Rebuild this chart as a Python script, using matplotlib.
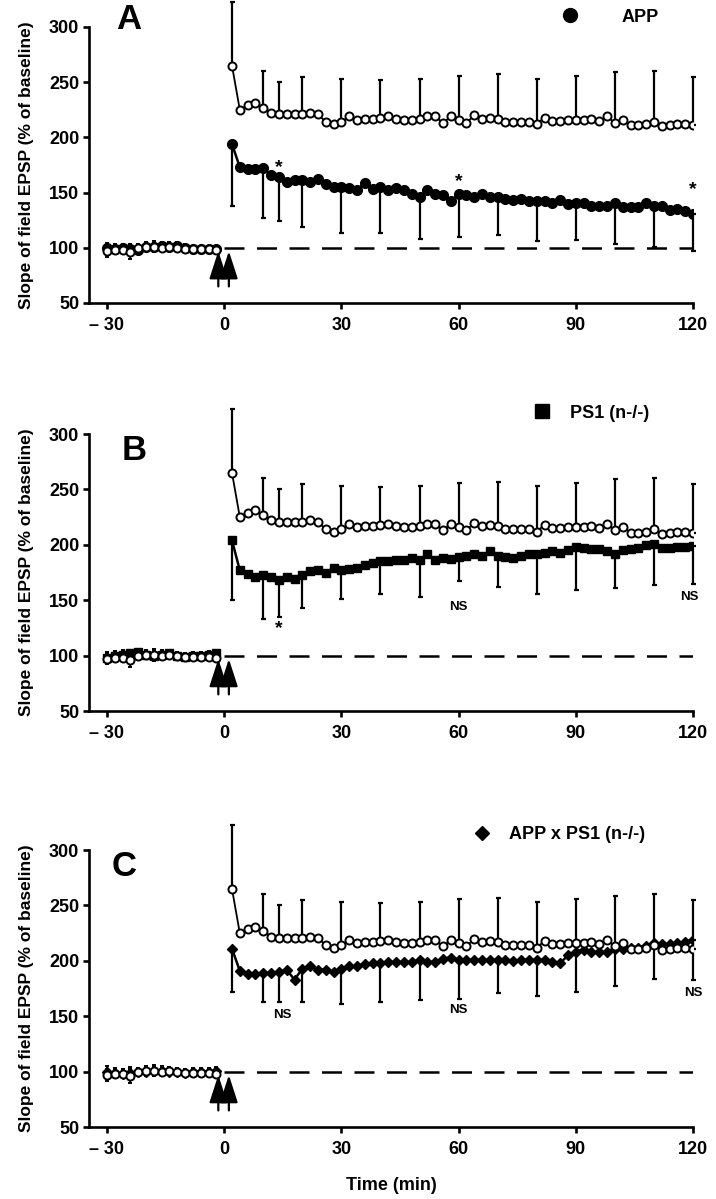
import numpy as np
import matplotlib
matplotlib.use("Agg")
import matplotlib.pyplot as plt
from matplotlib import font_manager
from matplotlib.lines import Line2D

# ---------------- data ----------------
t_base = np.arange(-30, 0, 2)        # baseline sweeps (min)
t_post = np.arange(2, 121, 2)        # after tetanus (min)
err_times = [2, 10, 14, 20, 30, 40, 50, 60, 70, 80, 90, 100, 110, 120]

# wild-type control (open circles), repeated in every panel
ctrl_base = [97, 98, 98, 96, 100, 101, 101, 100, 101, 100, 99, 99, 99, 99, 98]
ctrl_base_err = [5, 4, 4, 6, 3, 4, 5, 4, 3, 3, 3, 3, 3, 3, 3]
ctrl_post = [265, 225, 229, 231, 227, 222, 221, 221, 221, 221, 222, 221, 214, 212,
             214, 219, 216, 217, 217, 218, 219, 217, 216, 216, 217, 219, 219, 213, 219,
             216, 213, 220, 217, 218, 217, 214, 214, 214, 214, 212, 218, 215, 215, 216,
             216, 216, 217, 215, 219, 213, 216, 211, 211, 212, 214, 210, 211, 212, 212, 211]
ctrl_err = [58, 33, 29, 34, 39, 34, 36, 40, 40, 41, 40, 46, 46, 44]

# APP
app_base = [100, 99, 100, 99, 98, 101, 101, 102, 101, 102, 100, 99, 99, 99, 99]
app_base_err = [4, 4, 3, 4, 4, 3, 3, 3, 4, 3, 3, 3, 3, 3, 3]
app_post = [194, 173, 171, 171, 172, 166, 164, 160, 161, 161, 160, 162, 158, 155,
            155, 154, 152, 159, 153, 155, 152, 154, 152, 149, 146, 152, 149, 148, 142,
            149, 148, 146, 149, 146, 146, 144, 143, 144, 142, 142, 142, 141, 143, 140,
            141, 141, 138, 138, 138, 141, 137, 137, 137, 141, 138, 138, 134, 135, 133, 131]
app_err = [56, 45, 40, 42, 42, 42, 38, 39, 34, 36, 34, 38, 37, 34]

# PS1 (n-/-)
ps1_base = [98, 100, 101, 102, 103, 101, 100, 101, 102, 100, 99, 100, 100, 101, 102]
ps1_base_err = [5, 4, 4, 3, 3, 4, 5, 4, 3, 3, 3, 3, 3, 3, 3]
ps1_post = [204, 177, 174, 171, 173, 171, 168, 171, 169, 173, 176, 177, 175, 179,
            177, 178, 179, 182, 184, 185, 185, 186, 186, 188, 186, 192, 186, 188, 187,
            189, 190, 192, 190, 194, 190, 189, 188, 190, 192, 192, 193, 194, 193, 195,
            198, 197, 196, 196, 194, 192, 195, 196, 197, 200, 201, 197, 197, 198, 198, 199]
ps1_err = [54, 40, 33, 30, 26, 29, 33, 22, 28, 36, 39, 31, 37, 34]

# APP x PS1 (n-/-)
dbl_base = [100, 99, 98, 99, 100, 100, 101, 101, 100, 100, 99, 100, 100, 100, 101]
dbl_base_err = [5, 4, 4, 5, 3, 4, 4, 4, 3, 3, 3, 3, 3, 3, 3]
dbl_post = [211, 191, 188, 188, 189, 189, 190, 192, 183, 193, 195, 192, 192, 190,
            193, 195, 195, 197, 198, 198, 199, 199, 199, 199, 201, 199, 199, 202, 203,
            201, 201, 201, 201, 201, 201, 201, 200, 201, 201, 201, 201, 199, 198, 205,
            208, 210, 208, 208, 208, 211, 211, 212, 212, 213, 216, 215, 215, 216, 217, 219]
dbl_err = [39, 26, 27, 30, 32, 35, 36, 35, 30, 33, 36, 34, 32, 36]

# significance marks: (time, text, y value)
app_marks = [(14, "*", 173), (60, "*", 160), (120, "*", 153)]
ps1_marks = [(14, "*", 124), (60, "NS", 144), (119, "NS", 153)]
dbl_marks = [(15, "NS", 151), (60, "NS", 156), (120, "NS", 171)]

baseline_level = 100
tetanus_times = [-1.5, 1.2]

# ---------------- style ----------------
names = {f.name for f in font_manager.fontManager.ttflist}
tick_font = "Liberation Sans Narrow" if "Liberation Sans Narrow" in names else "Liberation Sans"
plt.rcParams["font.family"] = ["Liberation Sans", "DejaVu Sans"]
plt.rcParams["font.weight"] = "bold"

fig = plt.figure(figsize=(7.16, 11.99), dpi=100)

panels = [
    dict(letter="A", base=app_base, base_err=app_base_err, post=app_post, err=app_err,
         marker="o", ms=7.0, name="APP", marks=app_marks,
         rect=[0.1243, 0.7473, 0.8436, 0.2302], letter_pos=(-24.5, 307),
         leg_anchor=(0.783, 0.9858), leg_pad=2.35, leg_ms=10),
    dict(letter="B", base=ps1_base, base_err=ps1_base_err, post=ps1_post, err=ps1_err,
         marker="s", ms=6.4, name="PS1 (n-/-)", marks=ps1_marks,
         rect=[0.1243, 0.4070, 0.8436, 0.2310], letter_pos=(-23, 285),
         leg_anchor=(0.745, 0.6553), leg_pad=1.05, leg_ms=10),
    dict(letter="C", base=dbl_base, base_err=dbl_base_err, post=dbl_post, err=dbl_err,
         marker="D", ms=4.8, name="APP x PS1 (n-/-)", marks=dbl_marks,
         rect=[0.1243, 0.0600, 0.8436, 0.2310], letter_pos=(-25.6, 285),
         leg_anchor=(0.660, 0.3036), leg_pad=1.0, leg_ms=6.8),
]

err_mask = np.isin(t_post, err_times)
ctrl_post_arr = np.array(ctrl_post)

for i, p in enumerate(panels):
    ax = fig.add_axes(p["rect"])
    post = np.array(p["post"])
    zeros = np.zeros(len(err_times))

    # error bars: control upward, mutant downward
    ax.errorbar(t_post[err_mask], ctrl_post_arr[err_mask], yerr=[zeros, ctrl_err],
                fmt="none", ecolor="k", elinewidth=1.6, capsize=1.8, capthick=1.6,
                clip_on=False, zorder=2)
    ax.errorbar(t_post[err_mask], post[err_mask], yerr=[p["err"], zeros],
                fmt="none", ecolor="k", elinewidth=1.6, capsize=1.8, capthick=1.6,
                clip_on=False, zorder=2)
    ax.errorbar(t_base, p["base"], yerr=p["base_err"], fmt="none", ecolor="k",
                elinewidth=1.4, capsize=1.5, capthick=1.4, zorder=2)
    ax.errorbar(t_base, ctrl_base, yerr=ctrl_base_err, fmt="none", ecolor="k",
                elinewidth=1.4, capsize=1.5, capthick=1.4, zorder=2)

    # mutant series
    for tt, yy in [(t_base, p["base"]), (t_post, post)]:
        ax.plot(tt, yy, color="k", lw=1.8, marker=p["marker"], ms=p["ms"],
                mfc="k", mec="k", zorder=3)
    # control series (open circles)
    for tt, yy in [(t_base, ctrl_base), (t_post, ctrl_post)]:
        ax.plot(tt, yy, color="k", lw=1.3, marker="o", ms=5.8, mfc="white",
                mec="k", mew=1.4, zorder=4)

    # dashed baseline after tetanus
    ax.hlines(baseline_level, 0, 120, colors="k", lw=1.8,
              linestyles=(0, (8, 5)), zorder=1)

    # tetanus arrows
    for ta in tetanus_times:
        ax.annotate("", xy=(ta, 97), xytext=(ta, 65),
                    arrowprops=dict(arrowstyle="-|>,head_length=1.7,head_width=0.55",
                                    mutation_scale=10, color="k", lw=1.6,
                                    shrinkA=0, shrinkB=0), zorder=5)

    # significance marks
    for tm, txt, yv in p["marks"]:
        if txt == "*":
            ax.text(tm, yv, txt, ha="center", va="center", fontsize=14,
                    fontweight="bold")
        else:
            ax.text(tm, yv, txt, ha="center", va="center", fontsize=9.5,
                    fontweight="bold")

    # panel letter
    ax.text(p["letter_pos"][0], p["letter_pos"][1], p["letter"], ha="center",
            va="center", fontsize=25, fontweight="bold", clip_on=False)

    # legend
    h = Line2D([], [], ls="none", marker=p["marker"], color="k", ms=p["leg_ms"])
    ax.legend([h], [p["name"]], loc="center left", bbox_to_anchor=p["leg_anchor"],
              bbox_transform=fig.transFigure, frameon=False, borderpad=0,
              borderaxespad=0, handlelength=1.0, handletextpad=p["leg_pad"],
              prop=dict(weight="bold", size=13))

    # axes styling
    ax.set_xlim(-34.6, 120)
    ax.set_ylim(50, 300)
    ax.set_xticks([-30, 0, 30, 60, 90, 120])
    ax.set_xticklabels(["\u2013 30", "0", "30", "60", "90", "120"])
    ax.set_yticks([50, 100, 150, 200, 250, 300])
    for s in ["top", "right"]:
        ax.spines[s].set_visible(False)
    for s in ["left", "bottom"]:
        ax.spines[s].set_linewidth(1.9)
    ax.tick_params(axis="y", direction="out", length=4, width=1.9, pad=3)
    ax.tick_params(axis="x", direction="out", length=4, width=1.9, pad=6)
    for lab in ax.get_xticklabels() + ax.get_yticklabels():
        lab.set_fontfamily(tick_font)
        lab.set_fontweight("bold")
        lab.set_fontsize(13)
    ax.set_ylabel("Slope of field EPSP (% of baseline)", fontsize=12.5,
                  fontweight="bold", labelpad=11)
    if i == 2:
        ax.set_xlabel("Time (min)", fontsize=13, fontweight="bold", labelpad=14)

fig.savefig("out.png", dpi=100)
